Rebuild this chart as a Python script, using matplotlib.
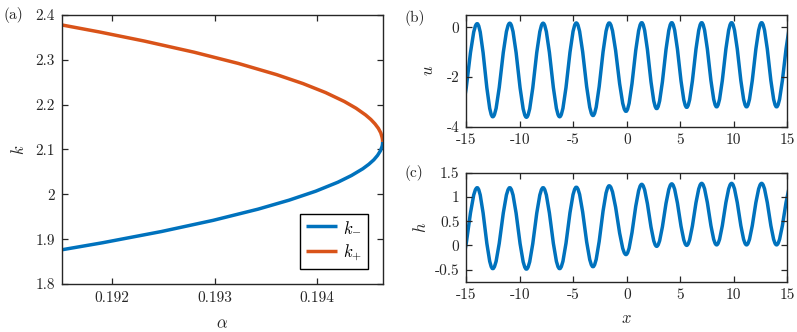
import matplotlib
matplotlib.use("Agg")
import matplotlib.pyplot as plt
from matplotlib.ticker import FixedLocator, FixedFormatter
from matplotlib.path import Path
from matplotlib.patches import PathPatch

plt.rcParams['font.family'] = 'serif'
plt.rcParams['font.serif'] = ['cmr10']
plt.rcParams['mathtext.fontset'] = 'cm'
plt.rcParams['axes.unicode_minus'] = False
plt.rcParams['font.size'] = 11

BLUE = '#0072BD'
ORANGE = '#D95319'
AXC = '#262626'
LW = 2.5

# (a) wavenumber branches k- and k+ against alpha
alpha_minus = [0.19464, 0.194639, 0.194635, 0.194618, 0.194591, 0.194554,
               0.194505, 0.194446, 0.194336, 0.194203, 0.193987, 0.193727,
               0.193425, 0.192986, 0.19248, 0.191906, 0.191399]
k_minus = [2.117, 2.112, 2.107, 2.097, 2.087, 2.077,
           2.067, 2.057, 2.042, 2.027, 2.007, 1.987,
           1.967, 1.942, 1.917, 1.892, 1.872]
alpha_plus = [0.19464, 0.194639, 0.194635, 0.194622, 0.194599, 0.194566,
              0.194525, 0.194474, 0.194381, 0.194267, 0.194083, 0.193863,
              0.193605, 0.193231, 0.1928, 0.192311, 0.191879, 0.19141]
k_plus = [2.117, 2.122, 2.127, 2.137, 2.147, 2.157,
          2.167, 2.177, 2.192, 2.207, 2.227, 2.247,
          2.267, 2.292, 2.317, 2.342, 2.362, 2.382]

# (b), (c) profiles: positions of successive crests/troughs and their values
x_ext = [-15.65, -14.00, -12.54, -10.95, -9.39, -7.83, -6.28, -4.72, -3.16, -1.64,
         -0.07, 1.40, 2.80, 4.21, 5.61, 7.01, 8.41, 9.81, 11.21, 12.62,
         14.02, 15.45]
u_ext = [-3.60, 0.15, -3.60, 0.17, -3.62, 0.17, -3.60, 0.18, -3.55, 0.18,
         -3.38, 0.19, -3.27, 0.19, -3.22, 0.19, -3.20, 0.19, -3.20, 0.19,
         -3.20, 0.19]
h_ext = [-0.48, 1.19, -0.48, 1.19, -0.49, 1.19, -0.48, 1.20, -0.44, 1.23,
         -0.19, 1.26, -0.02, 1.27, 0.00, 1.28, 0.01, 1.28, 0.01, 1.28,
         0.01, 1.28]

a_ticks = [0.192, 0.193, 0.194]
a_ticklabels = ['0.192', '0.193', '0.194']
k_ticks = [1.8, 1.9, 2.0, 2.1, 2.2, 2.3, 2.4]
k_ticklabels = ['1.8', '1.9', '2', '2.1', '2.2', '2.3', '2.4']
x_ticks = [-15, -10, -5, 0, 5, 10, 15]
x_ticklabels = ['-15', '-10', '-5', '0', '5', '10', '15']
u_ticks = [-4, -2, 0]
u_ticklabels = ['-4', '-2', '0']
h_ticks = [-0.5, 0, 0.5, 1, 1.5]
h_ticklabels = ['-0.5', '0', '0.5', '1', '1.5']


def style(ax, xt, xtl, yt, ytl):
    ax.xaxis.set_major_locator(FixedLocator(xt))
    ax.xaxis.set_major_formatter(FixedFormatter(xtl))
    ax.yaxis.set_major_locator(FixedLocator(yt))
    ax.yaxis.set_major_formatter(FixedFormatter(ytl))
    ax.tick_params(direction='in', top=True, right=True, length=4,
                   width=0.9, color=AXC, labelcolor=AXC, labelsize=11, pad=5)
    for s in ax.spines.values():
        s.set_color(AXC)
        s.set_linewidth(1.0)


def wave(ax, xs, vs):
    # smooth half-waves between crest and trough (horizontal tangent at each extremum)
    c = 0.364
    verts = [(xs[0], vs[0])]
    codes = [Path.MOVETO]
    for i in range(len(xs) - 1):
        dx = xs[i + 1] - xs[i]
        verts += [(xs[i] + c * dx, vs[i]), (xs[i + 1] - c * dx, vs[i + 1]),
                  (xs[i + 1], vs[i + 1])]
        codes += [Path.CURVE4] * 3
    ax.add_patch(PathPatch(Path(verts, codes), fill=False, edgecolor=BLUE,
                           lw=LW, capstyle='butt', joinstyle='round'))


fig = plt.figure(figsize=(7.97, 3.32), dpi=100)

ax1 = fig.add_axes([0.0778, 0.1446, 0.4028, 0.8102])
ax1.plot(alpha_minus, k_minus, color=BLUE, lw=LW, label='$k_{-}$',
         solid_capstyle='butt')
ax1.plot(alpha_plus, k_plus, color=ORANGE, lw=LW, label='$k_{+}$',
         solid_capstyle='butt')
ax1.set_xlim(0.19151, 0.194644)
ax1.set_ylim(1.8, 2.4)
style(ax1, a_ticks, a_ticklabels, k_ticks, k_ticklabels)
ax1.set_xlabel(r'$\alpha$', fontsize=12, color=AXC, labelpad=8)
ax1.set_ylabel(r'$k$', fontsize=12, color=AXC, labelpad=6)
leg = ax1.legend(loc='lower right', bbox_to_anchor=(0.953, 0.056), fancybox=False,
                 edgecolor='#000000', framealpha=1, fontsize=12,
                 handlelength=1.9, borderpad=0.35, labelspacing=0.45,
                 handletextpad=0.35, borderaxespad=0)
leg.get_frame().set_linewidth(1.0)
fig.text(0.004, 0.955, '(a)', fontsize=11, color=AXC, va='center')

ax2 = fig.add_axes([0.5853, 0.6184, 0.4022, 0.3364])
wave(ax2, x_ext, u_ext)
ax2.set_xlim(-15, 15)
ax2.set_ylim(-4, 0.5)
style(ax2, x_ticks, x_ticklabels, u_ticks, u_ticklabels)
ax2.set_ylabel('$u$', fontsize=12, color=AXC, labelpad=8)
fig.text(0.507, 0.945, '(b)', fontsize=11, color=AXC, va='center')

ax3 = fig.add_axes([0.5853, 0.1515, 0.4022, 0.3283])
wave(ax3, x_ext, h_ext)
ax3.set_xlim(-15, 15)
ax3.set_ylim(-0.75, 1.5)
style(ax3, x_ticks, x_ticklabels, h_ticks, h_ticklabels)
ax3.set_xlabel('$x$', fontsize=12, color=AXC, labelpad=6)
ax3.set_ylabel('$h$', fontsize=12, color=AXC, labelpad=4)
fig.text(0.507, 0.478, '(c)', fontsize=11, color=AXC, va='center')

fig.savefig('out.png', dpi=100)
